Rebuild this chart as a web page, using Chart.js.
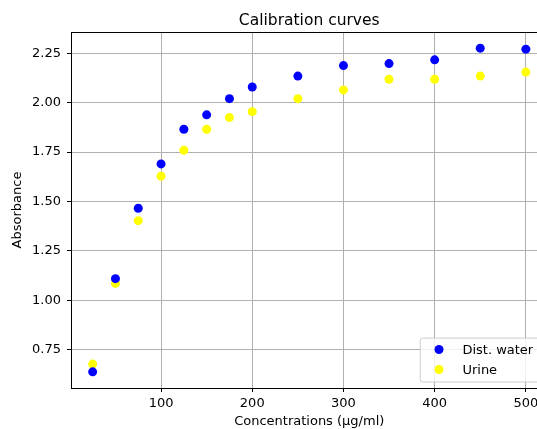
<!DOCTYPE html>
<html>
<head>
<meta charset="utf-8">
<script src="https://cdn.jsdelivr.net/npm/chart.js@4/dist/chart.umd.min.js"></script>
<style>
  html, body { margin: 0; padding: 0; background: #fff; overflow: hidden; }
  #wrap { width: 552px; height: 429px; }
</style>
</head>
<body>
<div id="wrap"><canvas id="chart" width="552" height="429"></canvas></div>
<script>
// Calibration data: absorbance vs. concentration (µg/ml)
const concentrations = [25, 50, 75, 100, 125, 150, 175, 200, 250, 300, 350, 400, 450, 500];
const distWater = [0.639, 1.110, 1.466, 1.690, 1.865, 1.938, 2.020, 2.079, 2.134, 2.187, 2.197, 2.216, 2.275, 2.270];
const urine     = [0.678, 1.086, 1.403, 1.628, 1.759, 1.865, 1.924, 1.954, 2.020, 2.064, 2.118, 2.118, 2.134, 2.154];
const xTicks = [100, 200, 300, 400, 500];
const yTicks = [0.75, 1.00, 1.25, 1.50, 1.75, 2.00, 2.25];
const seriesNames = ['Dist. water', 'Urine'];
const seriesColors = ['#0000ff', '#ffff00'];

const FONT = 'DejaVu Sans';
const FS = 13;

// 5% padding around the data range on both axes
function paddedRange(values) {
  const lo = Math.min(...values), hi = Math.max(...values);
  const m = (hi - lo) * 0.05;
  return [lo - m, hi + m];
}
const [xMin, xMax] = paddedRange(concentrations);
const [yMin, yMax] = paddedRange(distWater.concat(urine));

const toPoints = ys => concentrations.map((x, i) => ({ x, y: ys[i] }));

// Title, top/right frame lines and the legend box
const decorations = {
  id: 'decorations',
  afterDatasetsDraw(chart) {
    const { ctx, chartArea: a } = chart;
    ctx.save();
    // frame lines at top and right
    ctx.strokeStyle = '#000';
    ctx.lineWidth = 1;
    ctx.beginPath();
    ctx.moveTo(a.left, a.top + 0.5);
    ctx.lineTo(a.right, a.top + 0.5);
    ctx.moveTo(a.right - 0.5, a.top);
    ctx.lineTo(a.right - 0.5, a.bottom);
    ctx.stroke();

    // title
    ctx.fillStyle = '#000';
    ctx.font = `15.5px "${FONT}"`;
    ctx.textAlign = 'center';
    ctx.textBaseline = 'alphabetic';
    ctx.fillText('Calibration curves', (a.left + a.right) / 2, a.top - 7.5);

    // legend, lower right
    ctx.font = `${FS}px "${FONT}"`;
    const labels = chart.data.datasets.map(d => d.label);
    const textW = Math.max(...labels.map(t => ctx.measureText(t).width));
    const padL = 6.3, padR = 7.8, padV = 0.4 * FS;
    const handle = 2 * FS, gap = 0.8 * FS, rowH = 13.5, spacing = 0.5 * FS;
    const w = padL + handle + gap + textW + padR;
    const h = 2 * padV + labels.length * rowH + (labels.length - 1) * spacing;
    const right = a.right - 0.5 * FS, bottom = a.bottom - 0.5 * FS;
    const left = right - w, top = bottom - h;
    ctx.beginPath();
    ctx.roundRect(left + 0.5, top + 0.5, w, h, 2.6);
    ctx.fillStyle = 'rgba(255,255,255,0.8)';
    ctx.fill();
    ctx.strokeStyle = '#cccccc';
    ctx.stroke();
    ctx.textAlign = 'left';
    ctx.textBaseline = 'middle';
    chart.data.datasets.forEach((d, i) => {
      const cy = top + padV + rowH / 2 + i * (rowH + spacing);
      ctx.beginPath();
      ctx.arc(left + padL + handle / 2, cy, 4.5, 0, Math.PI * 2);
      ctx.fillStyle = d.backgroundColor;
      ctx.fill();
      ctx.fillStyle = '#000';
      ctx.fillText(d.label, left + padL + handle + gap, cy + 1);
    });
    ctx.restore();
  }
};

new Chart(document.getElementById('chart'), {
  type: 'scatter',
  data: {
    datasets: [
      { label: seriesNames[0], data: toPoints(distWater), backgroundColor: seriesColors[0] },
      { label: seriesNames[1], data: toPoints(urine), backgroundColor: seriesColors[1] }
    ]
  },
  options: {
    responsive: false,
    animation: false,
    events: [],
    layout: { padding: { top: 32, right: 4, left: 0, bottom: 0 } },
    elements: { point: { radius: 4.5, borderWidth: 0, hoverRadius: 4.5 } },
    plugins: { legend: { display: false }, title: { display: false }, tooltip: { enabled: false } },
    scales: {
      x: {
        type: 'linear',
        min: xMin,
        max: xMax,
        afterBuildTicks: s => { s.ticks = xTicks.map(v => ({ value: v })); },
        afterFit: s => { s.height = 41; },
        grid: { color: '#b0b0b0', lineWidth: 1, tickColor: '#000', tickLength: 4, drawTicks: true },
        border: { color: '#000', width: 1 },
        ticks: { font: { family: FONT, size: FS }, color: '#000', padding: 4, maxRotation: 0, callback: v => String(v) },
        title: { display: true, text: 'Concentrations (μg/ml)', font: { family: FONT, size: FS }, color: '#000', padding: { top: 0, bottom: 0 } }
      },
      y: {
        type: 'linear',
        min: yMin,
        max: yMax,
        afterBuildTicks: s => { s.ticks = yTicks.map(v => ({ value: v })); },
        afterFit: s => { s.width = 71; },
        grid: { color: '#b0b0b0', lineWidth: 1, tickColor: '#000', tickLength: 4, drawTicks: true },
        border: { color: '#000', width: 1 },
        ticks: { font: { family: FONT, size: FS }, color: '#000', padding: 6, callback: v => v.toFixed(2) },
        title: { display: true, text: 'Absorbance', font: { family: FONT, size: FS }, color: '#000', padding: { top: 10, bottom: 0 } }
      }
    }
  },
  plugins: [decorations]
});
</script>
</body>
</html>
